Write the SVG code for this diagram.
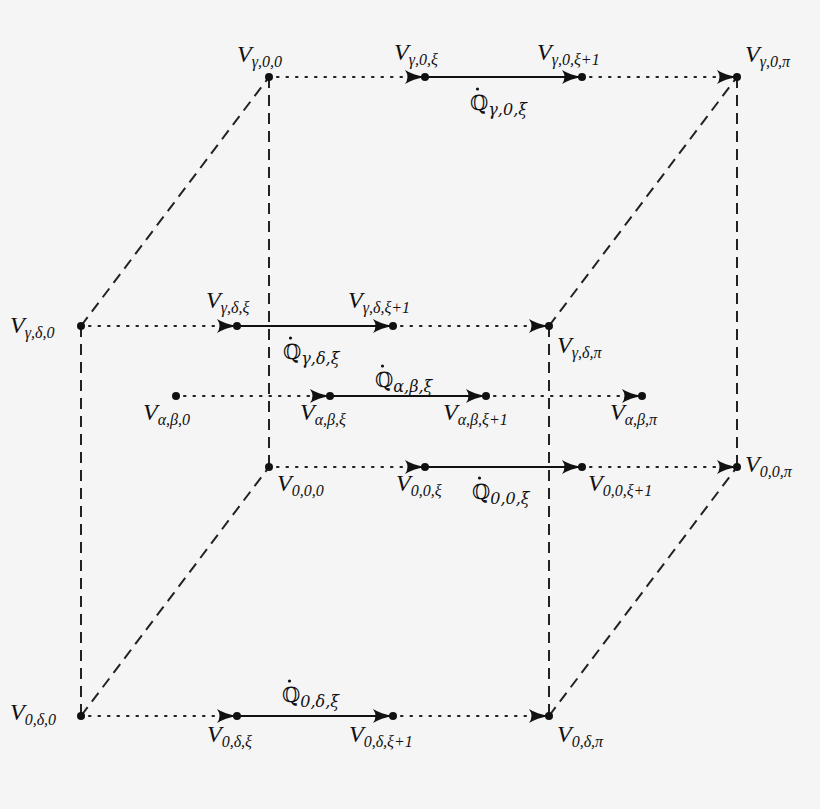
<svg xmlns="http://www.w3.org/2000/svg" width="820" height="809" viewBox="0 0 820 809">
<style>
.bg{fill:#f5f5f5}
.dash{stroke:#222;stroke-width:2;stroke-dasharray:11,7;fill:none}
.dot{stroke:#222;stroke-width:2.2;stroke-dasharray:1.5,8;stroke-linecap:round;fill:none}
.sol{stroke:#111;stroke-width:2.2;fill:none}
.n{fill:#111}
text{font-family:"Liberation Serif","DejaVu Serif",serif;fill:#111;font-size:24px}
.v{font-style:italic}
.s{font-size:16px;font-style:italic}
.q{font-family:"DejaVu Serif",serif;font-size:21px}
</style>
<defs>
<marker id="ar" markerUnits="userSpaceOnUse" markerWidth="24" markerHeight="16" viewBox="0 0 24 16" refX="20" refY="8" orient="auto">
<path d="M0,1 Q8,6 20,8 Q8,10 0,15 Q5,8 0,1 z" fill="#111"/>
</marker>
</defs>
<rect class="bg" width="820" height="809"/>
<g id="connectors">
<line class="dash" x1="81" y1="326" x2="269" y2="77"/>
<line class="dash" x1="549" y1="326" x2="737" y2="77"/>
<line class="dash" x1="81" y1="716" x2="269" y2="467"/>
<line class="dash" x1="549" y1="716" x2="737" y2="467"/>
<line class="dash" x1="81" y1="326" x2="81" y2="716"/>
<line class="dash" x1="269" y1="77" x2="269" y2="467"/>
<line class="dash" x1="549" y1="326" x2="549" y2="716"/>
<line class="dash" x1="737" y1="77" x2="737" y2="467"/>
<line class="dot" x1="277" y1="77" x2="425" y2="77" marker-end="url(#ar)"/>
<line class="sol" x1="425" y1="77" x2="582" y2="77" marker-end="url(#ar)"/>
<line class="dot" x1="590" y1="77" x2="737" y2="77" marker-end="url(#ar)"/>
<line class="dot" x1="89" y1="326" x2="237" y2="326" marker-end="url(#ar)"/>
<line class="sol" x1="237" y1="326" x2="393" y2="326" marker-end="url(#ar)"/>
<line class="dot" x1="401" y1="326" x2="549" y2="326" marker-end="url(#ar)"/>
<line class="dot" x1="184" y1="396" x2="330" y2="396" marker-end="url(#ar)"/>
<line class="sol" x1="330" y1="396" x2="486" y2="396" marker-end="url(#ar)"/>
<line class="dot" x1="494" y1="396" x2="642" y2="396" marker-end="url(#ar)"/>
<line class="dot" x1="277" y1="467" x2="425" y2="467" marker-end="url(#ar)"/>
<line class="sol" x1="425" y1="467" x2="582" y2="467" marker-end="url(#ar)"/>
<line class="dot" x1="590" y1="467" x2="737" y2="467" marker-end="url(#ar)"/>
<line class="dot" x1="89" y1="716" x2="237" y2="716" marker-end="url(#ar)"/>
<line class="sol" x1="237" y1="716" x2="393" y2="716" marker-end="url(#ar)"/>
<line class="dot" x1="401" y1="716" x2="549" y2="716" marker-end="url(#ar)"/>
</g>
<g id="nodes">
<g id="vg00"><circle class="n" cx="269" cy="77" r="4"/><text x="237" y="62"><tspan class="v">V</tspan><tspan class="s" dy="5">γ,0,0</tspan></text></g>
<g id="vg0x"><circle class="n" cx="425" cy="77" r="4"/><text x="394" y="60"><tspan class="v">V</tspan><tspan class="s" dy="5">γ,0,ξ</tspan></text></g>
<g id="vg0x1"><circle class="n" cx="582" cy="77" r="4"/><text x="537" y="60"><tspan class="v">V</tspan><tspan class="s" dy="5">γ,0,ξ+1</tspan></text></g>
<g id="vg0p"><circle class="n" cx="737" cy="77" r="4"/><text x="745" y="62"><tspan class="v">V</tspan><tspan class="s" dy="5">γ,0,π</tspan></text></g>
<g id="qg0"><text class="q" x="470" y="110">ℚ<tspan class="s" dy="5">γ,0,ξ</tspan></text><circle class="n" cx="477.5" cy="89" r="1.6"/></g>

<g id="vgd0"><circle class="n" cx="81" cy="326" r="4"/><text x="10" y="333"><tspan class="v">V</tspan><tspan class="s" dy="5">γ,δ,0</tspan></text></g>
<g id="vgdx"><circle class="n" cx="237" cy="326" r="4"/><text x="206" y="308"><tspan class="v">V</tspan><tspan class="s" dy="5">γ,δ,ξ</tspan></text></g>
<g id="vgdx1"><circle class="n" cx="393" cy="326" r="4"/><text x="348" y="308"><tspan class="v">V</tspan><tspan class="s" dy="5">γ,δ,ξ+1</tspan></text></g>
<g id="vgdp"><circle class="n" cx="549" cy="326" r="4"/><text x="557" y="353"><tspan class="v">V</tspan><tspan class="s" dy="5">γ,δ,π</tspan></text></g>
<g id="qgd"><text class="q" x="283" y="359">ℚ<tspan class="s" dy="5">γ,δ,ξ</tspan></text><circle class="n" cx="290.5" cy="338" r="1.6"/></g>

<g id="qab"><text class="q" x="375" y="387">ℚ<tspan class="s" dy="5">α,β,ξ</tspan></text><circle class="n" cx="382.5" cy="366" r="1.6"/></g>
<g id="vab0"><circle class="n" cx="176" cy="396" r="4"/><text x="143" y="420"><tspan class="v">V</tspan><tspan class="s" dy="5">α,β,0</tspan></text></g>
<g id="vabx"><circle class="n" cx="330" cy="396" r="4"/><text x="300" y="420"><tspan class="v">V</tspan><tspan class="s" dy="5">α,β,ξ</tspan></text></g>
<g id="vabx1"><circle class="n" cx="486" cy="396" r="4"/><text x="443" y="420"><tspan class="v">V</tspan><tspan class="s" dy="5">α,β,ξ+1</tspan></text></g>
<g id="vabp"><circle class="n" cx="642" cy="396" r="4"/><text x="610" y="420"><tspan class="v">V</tspan><tspan class="s" dy="5">α,β,π</tspan></text></g>

<g id="v000"><circle class="n" cx="269" cy="467" r="4"/><text x="277" y="491"><tspan class="v">V</tspan><tspan class="s" dy="5">0,0,0</tspan></text></g>
<g id="v00x"><circle class="n" cx="425" cy="467" r="4"/><text x="396" y="491"><tspan class="v">V</tspan><tspan class="s" dy="5">0,0,ξ</tspan></text></g>
<g id="q00"><text class="q" x="472" y="499">ℚ<tspan class="s" dy="5">0,0,ξ</tspan></text><circle class="n" cx="479.5" cy="478" r="1.6"/></g>
<g id="v00x1"><circle class="n" cx="582" cy="467" r="4"/><text x="588" y="491"><tspan class="v">V</tspan><tspan class="s" dy="5">0,0,ξ+1</tspan></text></g>
<g id="v00p"><circle class="n" cx="737" cy="467" r="4"/><text x="745" y="472"><tspan class="v">V</tspan><tspan class="s" dy="5">0,0,π</tspan></text></g>

<g id="v0d0"><circle class="n" cx="81" cy="716" r="4"/><text x="10" y="720"><tspan class="v">V</tspan><tspan class="s" dy="5">0,δ,0</tspan></text></g>
<g id="q0d"><text class="q" x="282" y="702">ℚ<tspan class="s" dy="5">0,δ,ξ</tspan></text><circle class="n" cx="289.5" cy="681" r="1.6"/></g>
<g id="v0dx"><circle class="n" cx="237" cy="716" r="4"/><text x="207" y="742"><tspan class="v">V</tspan><tspan class="s" dy="5">0,δ,ξ</tspan></text></g>
<g id="v0dx1"><circle class="n" cx="393" cy="716" r="4"/><text x="349" y="742"><tspan class="v">V</tspan><tspan class="s" dy="5">0,δ,ξ+1</tspan></text></g>
<g id="v0dp"><circle class="n" cx="549" cy="716" r="4"/><text x="557" y="742"><tspan class="v">V</tspan><tspan class="s" dy="5">0,δ,π</tspan></text></g>
</g>
</svg>
